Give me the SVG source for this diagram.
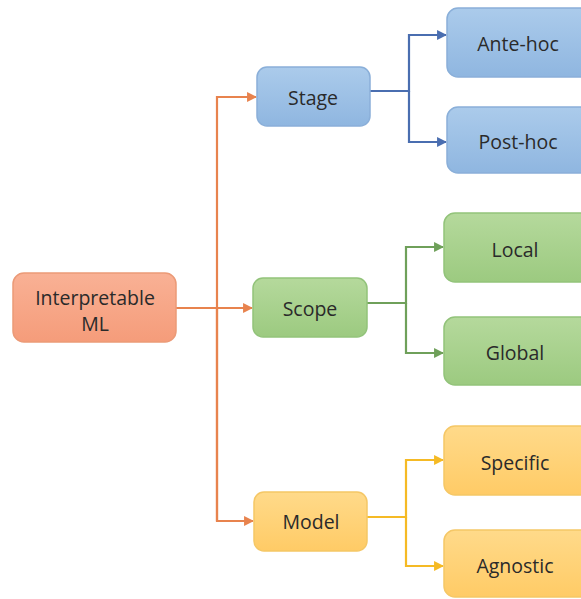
<svg xmlns="http://www.w3.org/2000/svg" width="581" height="599" viewBox="0 0 581 599">
<style>
text{font-family:"Open Sans","Noto Sans","Liberation Sans",sans-serif;font-size:19.5px;fill:#2a2a2a;text-anchor:middle;dominant-baseline:central}
.c{fill:none;stroke-width:2.2}
.o{stroke:#E8834E}.b{stroke:#4A6EB0}.g{stroke:#6FA05A}.y{stroke:#F5BA25}
.no{fill:url(#go);stroke:#EB9A77;stroke-width:1.5}
.nb{fill:url(#gb);stroke:#8AAFD9;stroke-width:1.5}
.ng{fill:url(#gg);stroke:#92C37A;stroke-width:1.5}
.ny{fill:url(#gy);stroke:#F5C766;stroke-width:1.5}
</style>
<defs>
<linearGradient id="go" x1="0" y1="0" x2="0" y2="1"><stop offset="0" stop-color="#F9B195"/><stop offset="1" stop-color="#F59C7A"/></linearGradient>
<linearGradient id="gb" x1="0" y1="0" x2="0" y2="1"><stop offset="0" stop-color="#ABCBEB"/><stop offset="1" stop-color="#8FB6E0"/></linearGradient>
<linearGradient id="gg" x1="0" y1="0" x2="0" y2="1"><stop offset="0" stop-color="#B5D99C"/><stop offset="1" stop-color="#9CCA80"/></linearGradient>
<linearGradient id="gy" x1="0" y1="0" x2="0" y2="1"><stop offset="0" stop-color="#FFDA8A"/><stop offset="1" stop-color="#FFCB66"/></linearGradient>
<marker id="ao" viewBox="0 0 10 10" refX="9" refY="5" markerWidth="4.5" markerHeight="4.5" orient="auto" markerUnits="strokeWidth"><path d="M0,0L10,5L0,10z" fill="#E8834E"/></marker>
<marker id="ab" viewBox="0 0 10 10" refX="9" refY="5" markerWidth="4.5" markerHeight="4.5" orient="auto" markerUnits="strokeWidth"><path d="M0,0L10,5L0,10z" fill="#4A6EB0"/></marker>
<marker id="ag" viewBox="0 0 10 10" refX="9" refY="5" markerWidth="4.5" markerHeight="4.5" orient="auto" markerUnits="strokeWidth"><path d="M0,0L10,5L0,10z" fill="#6FA05A"/></marker>
<marker id="ay" viewBox="0 0 10 10" refX="9" refY="5" markerWidth="4.5" markerHeight="4.5" orient="auto" markerUnits="strokeWidth"><path d="M0,0L10,5L0,10z" fill="#F5BA25"/></marker>
</defs>
<rect width="581" height="599" fill="#ffffff"/>
<g id="connectors">
<path class="c o" d="M176,308H252" marker-end="url(#ao)"/>
<path class="c o" d="M217,521V97H256" marker-end="url(#ao)"/>
<path class="c o" d="M217,308V521H253" marker-end="url(#ao)"/>
<path class="c b" d="M370,91H409V35H446" marker-end="url(#ab)"/>
<path class="c b" d="M409,91V142H446" marker-end="url(#ab)"/>
<path class="c g" d="M367,303H406V247H443" marker-end="url(#ag)"/>
<path class="c g" d="M406,303V353H443" marker-end="url(#ag)"/>
<path class="c y" d="M367,517H406V460H443" marker-end="url(#ay)"/>
<path class="c y" d="M406,517V566H443" marker-end="url(#ay)"/>
</g>
<g id="interpretable-ml"><rect class="no" x="13" y="273" width="163" height="69" rx="11"/><text x="95" y="297">Interpretable</text><text x="95" y="323">ML</text></g>
<g id="stage"><rect class="nb" x="257" y="67" width="113" height="59" rx="10"/><text x="313" y="97">Stage</text></g>
<g id="ante-hoc"><rect class="nb" x="447" y="8" width="145" height="69" rx="11"/><text x="518" y="43">Ante-hoc</text></g>
<g id="post-hoc"><rect class="nb" x="447" y="107" width="145" height="66" rx="11"/><text x="518" y="141">Post-hoc</text></g>
<g id="scope"><rect class="ng" x="253" y="278" width="114" height="59" rx="10"/><text x="310" y="308">Scope</text></g>
<g id="local"><rect class="ng" x="444" y="213" width="148" height="69" rx="11"/><text x="515" y="249">Local</text></g>
<g id="global"><rect class="ng" x="444" y="317" width="148" height="68" rx="11"/><text x="515" y="352">Global</text></g>
<g id="model"><rect class="ny" x="254" y="492" width="113" height="59" rx="10"/><text x="311" y="521">Model</text></g>
<g id="specific"><rect class="ny" x="444" y="426" width="148" height="69" rx="11"/><text x="515" y="462">Specific</text></g>
<g id="agnostic"><rect class="ny" x="444" y="530" width="148" height="67" rx="11"/><text x="515" y="565">Agnostic</text></g>
</svg>
